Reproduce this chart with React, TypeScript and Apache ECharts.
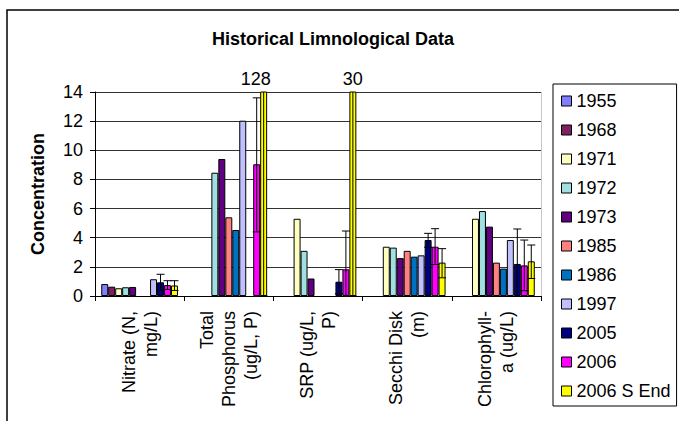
import React, { useEffect, useRef } from "react";
import * as echarts from "echarts";

const CATEGORIES = [
  "Nitrate (N,\nmg/L)",
  "Total\nPhosphorus\n(ug/L, P)",
  "SRP (ug/L,\nP)",
  "Secchi Disk\n(m)",
  "Chlorophyll-\na (ug/L)",
];

const SERIES_NAMES = ["1955", "1968", "1971", "1972", "1973", "1985", "1986", "1997", "2005", "2006", "2006 S End"];

const S1955 = [0.82, null, null, null, null];
const S1968 = [0.64, null, null, null, null];
const S1971 = [0.53, null, 5.3, 3.38, 5.3];
const S1972 = [0.6, 8.46, 3.1, 3.32, 5.83];
const S1973 = [0.62, 9.4, 1.2, 2.6, 4.76];
const S1985 = [null, 5.4, null, 3.1, 2.29];
const S1986 = [null, 4.53, null, 2.7, 1.88];
const S1997 = [1.15, 12.03, null, 2.79, 3.84];
const S2005 = [0.94, null, 0.98, 3.84, 2.2];
const S2006 = [0.75, 9.04, 1.83, 3.38, 2.1];
const S2006SEnd = [0.72, 128, 30, 2.29, 2.38];

const SERIES_VALUES = [S1955, S1968, S1971, S1972, S1973, S1985, S1986, S1997, S2005, S2006, S2006SEnd];

// error bars: [categoryIndex, seriesIndex, low, high]
const ERROR_BARS = [
  [0, 8, 0.38, 1.49],
  [0, 9, 0.45, 1.05],
  [0, 10, 0.38, 1.05],
  [1, 9, 4.4, 13.6],
  [1, 10, 0, 256],
  [2, 8, 0.15, 1.81],
  [2, 9, -0.8, 4.46],
  [2, 10, 0, 60],
  [3, 8, 3.35, 4.3],
  [3, 9, 2.16, 4.62],
  [3, 10, 1.25, 3.25],
  [4, 8, -0.2, 4.6],
  [4, 9, 0.36, 3.84],
  [4, 10, 1.2, 3.5],
];

const Y_MIN = 0;
const Y_MAX = 14;
const Y_INTERVAL = 2;

const COLORS = [
  "#8080FF",
  "#7F2160",
  "#FFFFC0",
  "#A0E0E0",
  "#600080",
  "#FF8080",
  "#0070C0",
  "#C0C0FF",
  "#000080",
  "#FF00FF",
  "#FFFF00",
];

const FONT = "'Liberation Sans', Arial, Helvetica, sans-serif";
const GAP = 0.14;

export default function App() {
  const ref = useRef<HTMLDivElement>(null);
  useEffect(() => {
    if (!ref.current) return;
    const chart = echarts.init(ref.current, null, { renderer: "svg" });
    const n = SERIES_NAMES.length;

    const barSeries = SERIES_NAMES.map((name, si) => ({
      name,
      type: "bar",
      barGap: "0%",
      barCategoryGap: `${GAP * 100}%`,
      itemStyle: { color: COLORS[si], borderColor: "#000", borderWidth: 1 },
      data: SERIES_VALUES[si].map((v, ci) =>
        v !== null && v > Y_MAX
          ? {
              value: v,
              label: {
                show: true,
                position: "top",
                distance: 4,
                offset: [ci === 1 ? -8 : 0, 0],
                formatter: String(v),
                fontFamily: FONT,
                fontSize: 18,
                color: "#000",
              },
            }
          : v
      ),
    }));

    const errorSeries = {
      type: "custom",
      z: 5,
      clip: true,
      data: ERROR_BARS,
      encode: { x: 0, y: [2, 3] },
      renderItem: (params: any, api: any) => {
        const cat = api.value(0);
        const s = api.value(1);
        const lo = api.value(2);
        const hi = api.value(3);
        const band = api.size([1, 0])[0];
        const total = band * (1 - GAP);
        const bw = total / n;
        const cx = api.coord([cat, 0])[0] - total / 2 + (s + 0.5) * bw;
        const yLo = api.coord([cat, lo])[1];
        const yHi = api.coord([cat, hi])[1];
        const cap = 4;
        const st = { stroke: "#000", lineWidth: 1 };
        return {
          type: "group",
          children: [
            { type: "line", shape: { x1: cx, y1: yLo, x2: cx, y2: yHi }, style: st },
            { type: "line", shape: { x1: cx - cap, y1: yHi, x2: cx + cap, y2: yHi }, style: st },
            { type: "line", shape: { x1: cx - cap, y1: yLo, x2: cx + cap, y2: yLo }, style: st },
          ],
        };
      },
    };

    chart.setOption({
      animation: false,
      backgroundColor: "#fff",
      textStyle: { fontFamily: FONT },
      title: {
        text: "Historical Limnological Data",
        left: 333,
        textAlign: "center",
        top: 30,
        padding: 0,
        textStyle: { fontFamily: FONT, fontSize: 18, fontWeight: "bold", color: "#000" },
      },
      legend: {
        data: SERIES_NAMES,
        orient: "vertical",
        left: 553,
        top: 84,
        itemWidth: 10,
        itemHeight: 10,
        itemGap: 11,
        padding: [8, 6, 6, 8],
        borderColor: "#000",
        borderWidth: 1,
        icon: "rect",
        itemStyle: { borderColor: "#000", borderWidth: 1 },
        textStyle: { fontFamily: FONT, fontSize: 18, color: "#000" },
      },
      grid: { left: 95, top: 92, width: 446, height: 204 },
      xAxis: {
        type: "category",
        data: CATEGORIES,
        axisLine: { lineStyle: { color: "#000", width: 1 } },
        axisTick: { show: true, length: 5, lineStyle: { color: "#000" } },
        axisLabel: {
          interval: 0,
          rotate: 90,
          margin: 15,
          fontFamily: FONT,
          fontSize: 18,
          lineHeight: 22,
          color: "#000",
        },
      },
      yAxis: {
        type: "value",
        min: Y_MIN,
        max: Y_MAX,
        interval: Y_INTERVAL,
        name: "Concentration",
        nameLocation: "middle",
        nameRotate: 90,
        nameGap: 48,
        nameTextStyle: { fontFamily: FONT, fontSize: 18, fontWeight: "bold", color: "#000" },
        axisLine: { show: true, lineStyle: { color: "#000", width: 1 } },
        axisTick: { show: true, length: 5, lineStyle: { color: "#000" } },
        axisLabel: { fontFamily: FONT, fontSize: 18, color: "#000", margin: 12 },
        splitLine: { show: true, lineStyle: { color: "#333", width: 1 } },
      },
      graphic: [
        {
          type: "rect",
          shape: { x: 7, y: 10, width: 1000, height: 1000 },
          style: { fill: "none", stroke: "#000", lineWidth: 1.5 },
          silent: true,
          z: -1,
        },
        {
          type: "line",
          shape: { x1: 541.5, y1: 92, x2: 541.5, y2: 296 },
          style: { stroke: "#c8c8c8", lineWidth: 1 },
          silent: true,
        },
      ],
      series: [...barSeries, errorSeries],
    });
    return () => chart.dispose();
  }, []);
  return (
    <div
      ref={ref}
      style={{ position: "absolute", left: 0, top: 0, width: 679, height: 421, background: "#fff" }}
    />
  );
}
